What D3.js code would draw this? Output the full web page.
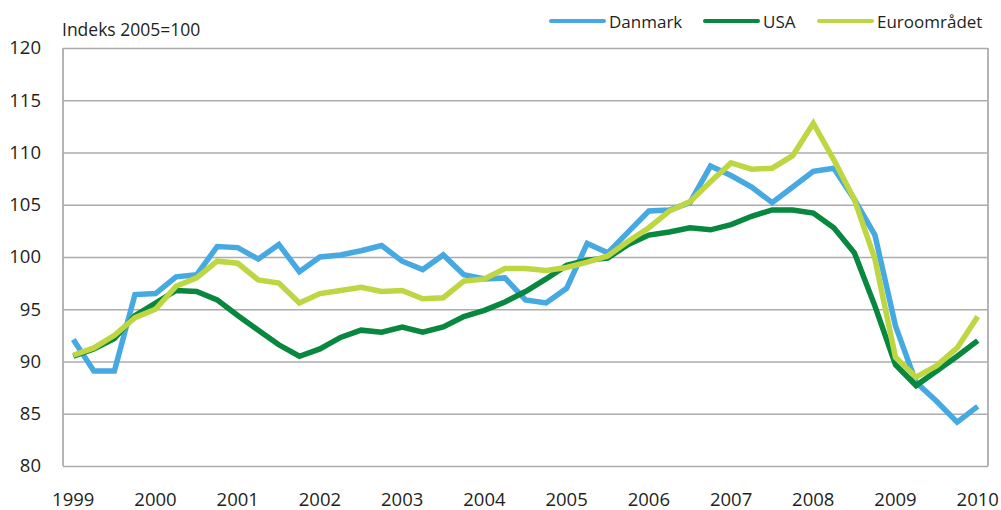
<!DOCTYPE html>
<html>
<head>
<meta charset="utf-8">
<script src="https://cdn.jsdelivr.net/npm/d3@7"></script>
<style>
  html, body { margin: 0; padding: 0; background: #fff; }
  svg { display: block; }
  text { font-family: "Open Sans", sans-serif; fill: #231f20; }
</style>
</head>
<body>
<svg id="chart" width="1001" height="510"></svg>
<script>
const years = ["1999","2000","2001","2002","2003","2004","2005","2006","2007","2008","2009","2010"];
const quarters = [];
years.forEach(yr => { ["K1","K2","K3","K4"].forEach(q => { if (!(yr === "2010" && q !== "K1")) quarters.push(yr + q); }); });

const yTicks = [80, 85, 90, 95, 100, 105, 110, 115, 120];
const seriesNames = ["Danmark", "USA", "Euroområdet"];
const seriesColors = ["#47a9e1", "#08873f", "#bdd641"];

const danmark = [92.1, 89.1, 89.1, 96.4, 96.5, 98.1, 98.3, 101.0, 100.9, 99.8,
  101.2, 98.6, 100.0, 100.2, 100.6, 101.1, 99.6, 98.8, 100.2, 98.3,
  97.9, 98.0, 95.9, 95.6, 97.0, 101.3, 100.4, 102.4, 104.4, 104.5,
  105.2, 108.7, 107.8, 106.7, 105.2, 106.7, 108.2, 108.5, 105.5, 102.1,
  93.4, 88.0, 86.2, 84.2, 85.7];
const usa = [90.5, 91.2, 92.2, 94.4, 95.6, 96.8, 96.7, 95.9, 94.4, 93.0,
  91.6, 90.5, 91.2, 92.3, 93.0, 92.8, 93.3, 92.8, 93.3, 94.3,
  94.9, 95.7, 96.7, 97.9, 99.2, 99.7, 99.9, 101.2, 102.1, 102.4,
  102.8, 102.6, 103.1, 103.9, 104.5, 104.5, 104.2, 102.8, 100.4, 95.3,
  89.7, 87.7, 89.1, 90.5, 92.0];
const euro = [90.6, 91.3, 92.5, 94.2, 95.0, 97.2, 98.0, 99.6, 99.4, 97.8,
  97.5, 95.6, 96.5, 96.8, 97.1, 96.7, 96.8, 96.0, 96.1, 97.7,
  97.9, 98.9, 98.9, 98.7, 99.0, 99.5, 100.1, 101.5, 102.8, 104.4,
  105.3, 107.2, 109.0, 108.4, 108.5, 109.7, 112.8, 109.3, 105.5, 99.8,
  90.4, 88.5, 89.6, 91.3, 94.3];
const seriesValues = [danmark, usa, euro];

const svg = d3.select("#chart");
const pL = 63, pR = 988, pT = 48, pB = 466;

const x = d3.scaleBand().domain(quarters).range([pL, pR]).paddingInner(0).paddingOuter(0);
const y = d3.scaleLinear().domain([80, 120]).range([pB, pT]);
const xc = q => x(q) + x.bandwidth() / 2;

// gridlines + y labels
const yAxis = d3.axisLeft(y).tickValues(yTicks).tickSize(-(pR - pL)).tickPadding(22).tickFormat(d3.format("d"));
const gy = svg.append("g").attr("transform", `translate(${pL},0)`).call(yAxis);
gy.select(".domain").remove();
gy.selectAll(".tick line").attr("stroke", "#acacb0").attr("stroke-width", 1.6);
gy.selectAll(".tick text").attr("font-size", 18.5).attr("fill", "#231f20").attr("font-family", "Open Sans, sans-serif");

// plot frame left/right
svg.append("line").attr("x1", pL).attr("x2", pL).attr("y1", pT).attr("y2", pB).attr("stroke", "#acacb0").attr("stroke-width", 1.8);
svg.append("line").attr("x1", pR).attr("x2", pR).attr("y1", pT).attr("y2", pB).attr("stroke", "#acacb0").attr("stroke-width", 1.8);

// x axis labels
const xAxis = d3.axisBottom(x).tickValues(years.map(yv => yv + "K1")).tickSize(0).tickPadding(27).tickFormat(d => d.slice(0, 4));
const gx = svg.append("g").attr("transform", `translate(0,${pB})`).call(xAxis);
gx.select(".domain").remove();
gx.selectAll(".tick text").attr("font-size", 18.5).attr("fill", "#231f20").attr("font-family", "Open Sans, sans-serif");

// lines
const line = d3.line().x((d, i) => xc(quarters[i])).y(d => y(d)).curve(d3.curveLinear);
[0, 1, 2].forEach(k => {
  svg.append("path").datum(seriesValues[k]).attr("d", line)
    .attr("fill", "none").attr("stroke", seriesColors[k]).attr("stroke-width", 5.5)
    .attr("stroke-linejoin", "miter").attr("stroke-linecap", "butt");
});

// title
svg.append("text").attr("x", 62).attr("y", 36).attr("font-size", 17.5).text("Indeks 2005=100");

// legend
const legendX = [551, 705, 819];
seriesNames.forEach((n, k) => {
  svg.append("line").attr("x1", legendX[k]).attr("x2", legendX[k] + 53).attr("y1", 21).attr("y2", 21)
    .attr("stroke", seriesColors[k]).attr("stroke-width", 4).attr("stroke-linecap", "round");
  svg.append("text").attr("x", legendX[k] + 58).attr("y", 27.5).attr("font-size", 17).text(n);
});
</script>
</body>
</html>
